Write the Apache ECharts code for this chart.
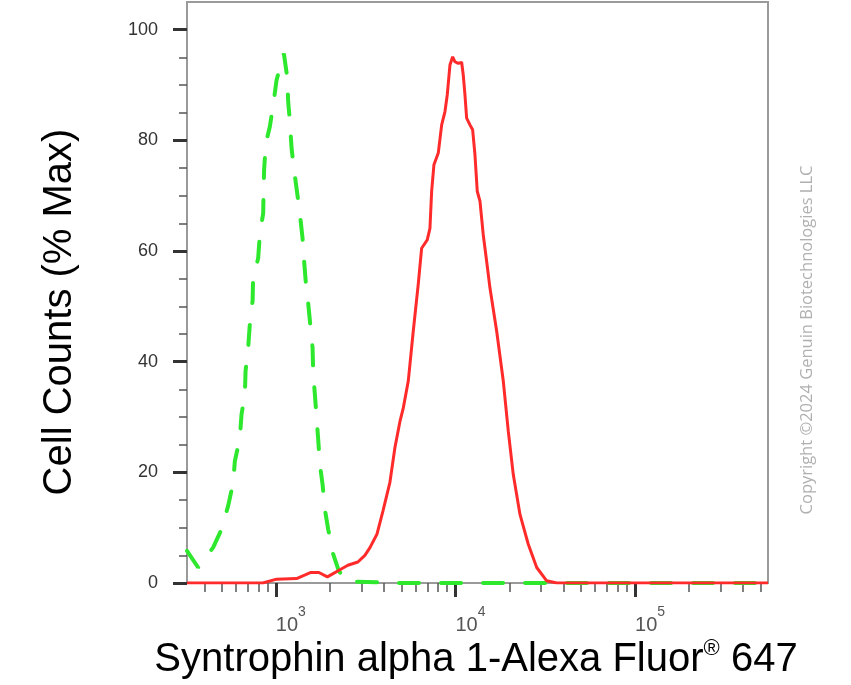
<!DOCTYPE html>
<html><head><meta charset="utf-8">
<script src="https://cdn.jsdelivr.net/npm/echarts@6/dist/echarts.min.js"></script>
<style>html,body{margin:0;padding:0;background:#fff}#c{width:851px;height:685px}</style>
</head><body><div id="c"></div>
<script>
// Isotype control (green dashed)
const isoX = [320, 369, 447, 498, 542, 578, 591, 630, 644, 672, 678, 701, 716, 742, 747, 797, 815, 850, 855, 860, 880, 926, 975, 1009, 1108, 1156, 1171, 1197, 1223, 1259, 1314, 1360, 1408, 1432, 1469, 1513, 1561, 1601, 1614, 1649, 1686, 1721, 1759, 1820, 1875, 1956, 2085, 2224, 2424, 5000, 20000, 100000, 550000];
const isoY = [5.8, 2.8, 6.4, 9.7, 13.9, 18.1, 22.0, 26.2, 30.5, 34.1, 38.3, 42.5, 46.7, 51.0, 55.1, 58.7, 63.2, 66.8, 71.4, 74.7, 79.5, 82.5, 87.3, 90.9, 95.7, 91.5, 87.0, 83.4, 78.6, 75.0, 70.5, 66.8, 62.3, 58.7, 54.2, 50.6, 46.1, 42.5, 38.0, 34.1, 29.8, 25.9, 21.4, 17.8, 13.3, 9.7, 5.2, 2.5, 0.3, 0, 0, 0, 0];
// Sample (red solid)
const smpX = [320, 846, 1009, 1304, 1567, 1736, 1936, 2273, 2518, 2862, 3131, 3341, 3653, 3946, 4316, 4603, 4908, 5121, 5461, 5821, 6207, 6482, 6965, 7210, 7370, 7590, 8022, 8380, 8740, 9001, 9318, 9647, 9936, 10366, 10826, 11052, 11296, 11545, 12043, 12466, 12841, 13225, 13693, 14286, 14922, 15568, 16966, 18465, 19693, 20989, 22872, 25439, 28340, 32221, 36637, 550000];
const smpY = [0, 0, 0.7, 0.8, 1.9, 1.9, 1.1, 2.4, 3.2, 3.8, 5.0, 6.4, 8.8, 13.0, 18.2, 24.5, 29.2, 31.6, 36.5, 45.5, 54.0, 60.5, 62.0, 64.1, 70.8, 75.6, 77.7, 82.8, 85.2, 88.2, 93.6, 95.1, 94.2, 93.9, 94.1, 91.8, 88.2, 84.0, 82.8, 81.9, 77.4, 70.8, 69.0, 62.9, 58.1, 53.3, 45.5, 36.5, 27.4, 19.6, 12.4, 7.0, 2.8, 0.4, 0, 0];

const xMin = 320, xMax = 550000;
const xMajorTicks = [1000, 10000, 100000];
const xMinorTicks = [400, 500, 600, 700, 800, 900, 2000, 3000, 4000, 5000, 6000, 7000, 8000, 9000, 20000, 30000, 40000, 50000, 60000, 70000, 80000, 90000, 200000, 300000, 400000, 500000];
const yMin = 0, yMax = 105;
const yMajorTicks = [0, 20, 40, 60, 80, 100];
const yMinorTicks = [5, 10, 15, 25, 30, 35, 45, 50, 55, 65, 70, 75, 85, 90, 95];

const xTitle = 'Syntrophin alpha 1-Alexa Fluor';
const xTitleSup = '®';
const xTitleEnd = ' 647';
const yTitle = 'Cell Counts (% Max)';
const copyright = 'Copyright ©2024 Genuin Biotechnologies LLC';

const L = v => Math.log10(v);
const pair = (xs, ys) => xs.map((x, i) => [x, ys[i]]);
const FONT = '"Liberation Sans", Arial, sans-serif';

const chart = echarts.init(document.getElementById('c'));
chart.setOption({
  animation: false,
  grid: { left: 187, right: 83, top: 2, bottom: 102, show: true, borderColor: '#9a9a9a', borderWidth: 2 },
  xAxis: [
    { type: 'log', logBase: 10, min: xMin, max: xMax,
      axisLine: { show: true, lineStyle: { color: '#9a9a9a', width: 2 } },
      axisTick: { show: false }, axisLabel: { show: false }, splitLine: { show: false } },
    { type: 'value', min: L(xMin), max: L(xMax), position: 'bottom',
      axisLine: { show: false }, splitLine: { show: false },
      axisTick: { show: true, length: 14, lineStyle: { color: '#333', width: 3 }, customValues: xMajorTicks.map(L) },
      axisLabel: { show: true, customValues: xMajorTicks.map(L), margin: 22, align: 'left',
        formatter: v => '{b|10}{s|' + Math.round(v) + '}',
        rich: {
          b: { fontSize: 20, fontFamily: FONT, color: '#555', verticalAlign: 'bottom', lineHeight: 30 },
          s: { fontSize: 14, fontFamily: FONT, color: '#555', verticalAlign: 'top', lineHeight: 30 }
        } } },
    { type: 'value', min: L(xMin), max: L(xMax), position: 'bottom',
      axisLine: { show: false }, splitLine: { show: false },
      axisTick: { show: true, length: 9, lineStyle: { color: '#555', width: 1.5 }, customValues: xMinorTicks.map(L) },
      axisLabel: { show: false } }
  ],
  yAxis: [
    { type: 'value', min: yMin, max: yMax,
      axisLine: { show: true, lineStyle: { color: '#9a9a9a', width: 2 } },
      splitLine: { show: false },
      axisTick: { show: true, length: 14, lineStyle: { color: '#333', width: 3 }, customValues: yMajorTicks },
      axisLabel: { show: true, customValues: yMajorTicks, margin: 29, fontSize: 18, color: '#333', fontFamily: FONT } },
    { type: 'value', min: yMin, max: yMax, position: 'left',
      axisLine: { show: false }, splitLine: { show: false },
      axisTick: { show: true, length: 8, lineStyle: { color: '#555', width: 1.5 }, customValues: yMinorTicks },
      axisLabel: { show: false } }
  ],
  series: [
    { type: 'line', name: 'Isotype', xAxisIndex: 0, yAxisIndex: 0, showSymbol: false, symbol: 'none',
      data: pair(isoX, isoY), lineStyle: { color: '#2ee82e', width: 4, type: [20, 22], cap: 'round' } },
    { type: 'line', name: 'Syntrophin alpha 1', xAxisIndex: 0, yAxisIndex: 0, showSymbol: false, symbol: 'none',
      data: pair(smpX, smpY), lineStyle: { color: '#ff2a2a', width: 3 } }
  ],
  graphic: [
    { type: 'text', x: 60, y: 312, rotation: Math.PI / 2,
      style: { text: yTitle, font: '40px ' + FONT, fill: '#000', align: 'center', verticalAlign: 'middle' } },
    { type: 'text', x: 476, y: 659,
      style: { text: '{a|' + xTitle + '}{s|' + xTitleSup + '}{a|' + xTitleEnd + '}', align: 'center', verticalAlign: 'middle',
        rich: {
          a: { fontSize: 40, fontFamily: FONT, fill: '#000', verticalAlign: 'bottom', lineHeight: 42 },
          s: { fontSize: 22, fontFamily: FONT, fill: '#000', verticalAlign: 'top', lineHeight: 42 }
        } } },
    { type: 'text', x: 807, y: 340, rotation: Math.PI / 2,
      style: { text: copyright, font: '16.5px "Open Sans", sans-serif', fill: '#b0b0b0', align: 'center', verticalAlign: 'middle' } }
  ]
});
</script>
</body></html>
